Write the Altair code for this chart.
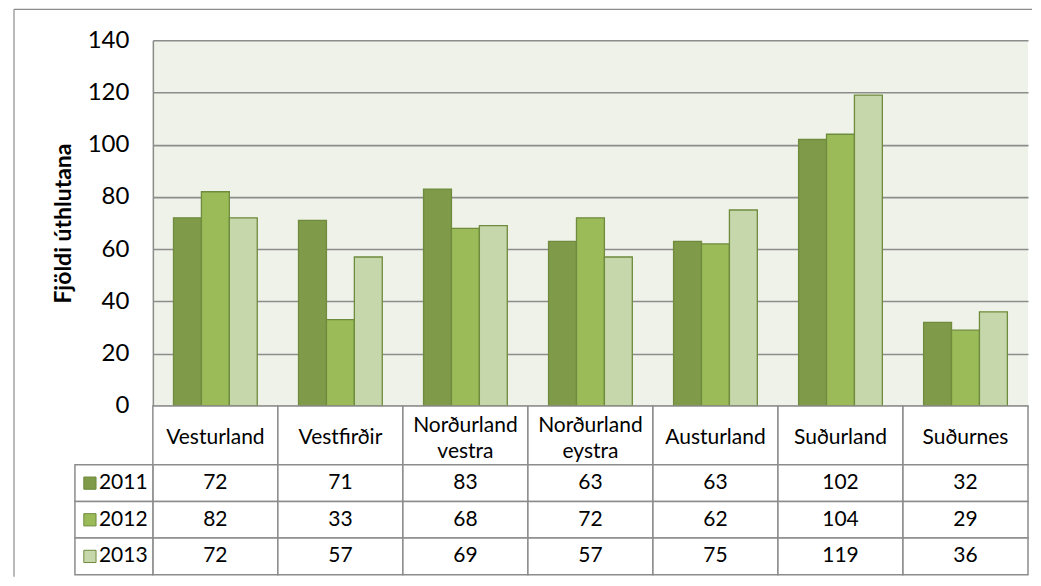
import altair as alt
import pandas as pd

categories = ["Vesturland", "Vestfirðir", "Norðurland\nvestra", "Norðurland\neystra",
              "Austurland", "Suðurland", "Suðurnes"]
years = ["2011", "2012", "2013"]
v2011 = [72, 71, 83, 63, 63, 102, 32]
v2012 = [82, 33, 68, 72, 62, 104, 29]
v2013 = [72, 57, 69, 57, 75, 119, 36]
y_ticks = [0, 20, 40, 60, 80, 100, 120, 140]
y_title = "Fjöldi úthlutana"

colors = ["#7f9a48", "#9bbb59", "#c6d7ab"]
grid = "#8c8c8c"
FONT = "Lato"
TFS = 21

rows = []
for yr, vals in zip(years, [v2011, v2012, v2013]):
    for c, v in zip(categories, vals):
        rows.append({"cat": c, "year": yr, "value": v})
df = pd.DataFrame(rows)
df_cat = pd.DataFrame({"cat": categories})
df_year = pd.DataFrame({"year": years})

W = 876
xband = alt.Scale(domain=categories, paddingInner=0.33, paddingOuter=0.165)
xcell = alt.Scale(domain=categories, paddingInner=0, paddingOuter=0)
col = alt.Scale(domain=years, range=colors)

bars = alt.Chart(df).mark_bar(stroke="#6f8b3d", strokeWidth=1.3).encode(
    x=alt.X("cat:N", scale=xband, sort=categories, axis=None),
    xOffset=alt.XOffset("year:N", scale=alt.Scale(domain=years, paddingInner=0, paddingOuter=0)),
    y=alt.Y("value:Q", scale=alt.Scale(domain=[0, 140], nice=False),
            axis=alt.Axis(values=y_ticks, title=y_title, titleFont=FONT, titleFontSize=23,
                          titleFontWeight="bold", titleColor="black", titlePadding=12,
                          labelFont=FONT, labelFontSize=24, labelColor="black",
                          labelPadding=24, ticks=False, tickSize=0,
                          domainColor=grid, domainWidth=1.5,
                          gridColor=grid, gridWidth=1.6)),
    color=alt.Color("year:N", scale=col, legend=None),
)

border_left = alt.Chart(df_cat.head(1)).mark_rule(color="#8c8c8c", strokeWidth=1.2).encode(
    x=alt.value(-139), y=alt.value(-31), y2=alt.value(537))
border_top = alt.Chart(df_cat.head(1)).mark_rule(color="#8c8c8c", strokeWidth=1.2).encode(
    x=alt.value(-139), x2=alt.value(880), y=alt.value(-31))

top = alt.layer(bars, border_left, border_top).properties(
    width=W, height=366,
    view=alt.ViewBackground(fill="#eff2e8", stroke=None))

header_cells = alt.Chart(df_cat).mark_rect(fill="white", stroke=grid, strokeWidth=1.5).encode(
    x=alt.X("cat:N", scale=xcell, sort=categories, axis=None))
header_one = alt.Chart(df_cat).transform_filter(
    "indexof(datum.cat, '\\n') < 0"
).mark_text(font=FONT, fontSize=TFS, color="black", baseline="middle").encode(
    x=alt.X("cat:N", scale=xcell, sort=categories, axis=None),
    y=alt.value(32),
    text="cat:N")
header_two = alt.Chart(df_cat).transform_filter(
    "indexof(datum.cat, '\\n') >= 0"
).mark_text(font=FONT, fontSize=TFS, color="black", lineBreak="\n", lineHeight=26,
            baseline="middle").encode(
    x=alt.X("cat:N", scale=xcell, sort=categories, axis=None),
    y=alt.value(20),
    text="cat:N")
header = alt.layer(header_cells, header_one, header_two).properties(
    width=W, height=59, view=alt.ViewBackground(stroke=None))

yrow = alt.Scale(domain=years, paddingInner=0, paddingOuter=0)
val_cells = alt.Chart(df).mark_rect(fill="white", stroke=grid, strokeWidth=1.5).encode(
    x=alt.X("cat:N", scale=xcell, sort=categories, axis=None),
    y=alt.Y("year:N", scale=yrow, axis=None))
val_text = alt.Chart(df).mark_text(font=FONT, fontSize=TFS, color="black", baseline="middle").encode(
    x=alt.X("cat:N", scale=xcell, sort=categories, axis=None),
    y=alt.Y("year:N", scale=yrow, axis=None),
    text="value:Q")
leg_cells = alt.Chart(df_year).mark_rect(fill="white", stroke=grid, strokeWidth=1.5).encode(
    x=alt.value(-78), x2=alt.value(0),
    y=alt.Y("year:N", scale=yrow, axis=None))
leg_sq = alt.Chart(df_year).mark_point(shape="square", filled=True, size=150, opacity=1,
                                       stroke="#6f8b3d", strokeWidth=1).encode(
    x=alt.value(-63),
    y=alt.Y("year:N", scale=yrow, axis=None),
    color=alt.Color("year:N", scale=col, legend=None))
leg_text = alt.Chart(df_year).mark_text(font=FONT, fontSize=TFS, color="black", align="left",
                                        baseline="middle").encode(
    x=alt.value(-54),
    y=alt.Y("year:N", scale=yrow, axis=None),
    text="year:N")
values = alt.layer(val_cells, val_text, leg_cells, leg_sq, leg_text).properties(
    width=W, height=110, view=alt.ViewBackground(stroke=None))

chart = alt.vconcat(top, header, values, spacing=0, bounds="flush").properties(
    padding={"left": 5, "top": 0, "right": 0, "bottom": 0}
).configure_view(stroke=None).configure(background="white")

chart.save("out.html", embed_options={"renderer": "svg", "actions": False})
